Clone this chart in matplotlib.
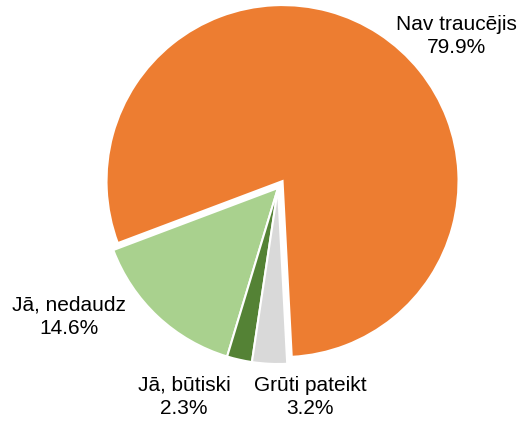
import matplotlib
matplotlib.use("Agg")
import matplotlib.pyplot as plt

categories = ["Nav traucējis", "Jā, nedaudz", "Jā, būtiski", "Grūti pateikt"]
values = [79.9, 14.6, 2.3, 3.2]
colors = ["#ED7D31", "#A9D18E", "#548235", "#D9D9D9"]
explode = [0.047, 0, 0, 0]

plt.rcParams['font.family'] = ['Liberation Sans', 'DejaVu Sans']

fig = plt.figure(figsize=(5.21, 4.21), dpi=100)
ax = fig.add_axes([0, 0, 1, 1])
ax.pie(values, colors=colors, explode=explode, startangle=-87, counterclock=True,
       radius=1.0, wedgeprops=dict(edgecolor="white", linewidth=1.5))
R = 176.0
cx, cy = 278.0, 188.0
ax.set_xlim(-cx / R, (521 - cx) / R)
ax.set_ylim(-(421 - cy) / R, cy / R)
ax.set_aspect('auto')
ax.axis('off')

def px(x, y):
    return ((x - cx) / R, (cy - y) / R)

label_pos = [(456, 36), (69, 317), (184, 397), (310, 397)]
for name, v, (x, y) in zip(categories, values, label_pos):
    ax.text(*px(x, y), f"{name}\n{v:.1f}%", ha="center", va="center",
            fontsize=15, linespacing=1.28, color="#000000")

fig.savefig("out.png", dpi=100)
